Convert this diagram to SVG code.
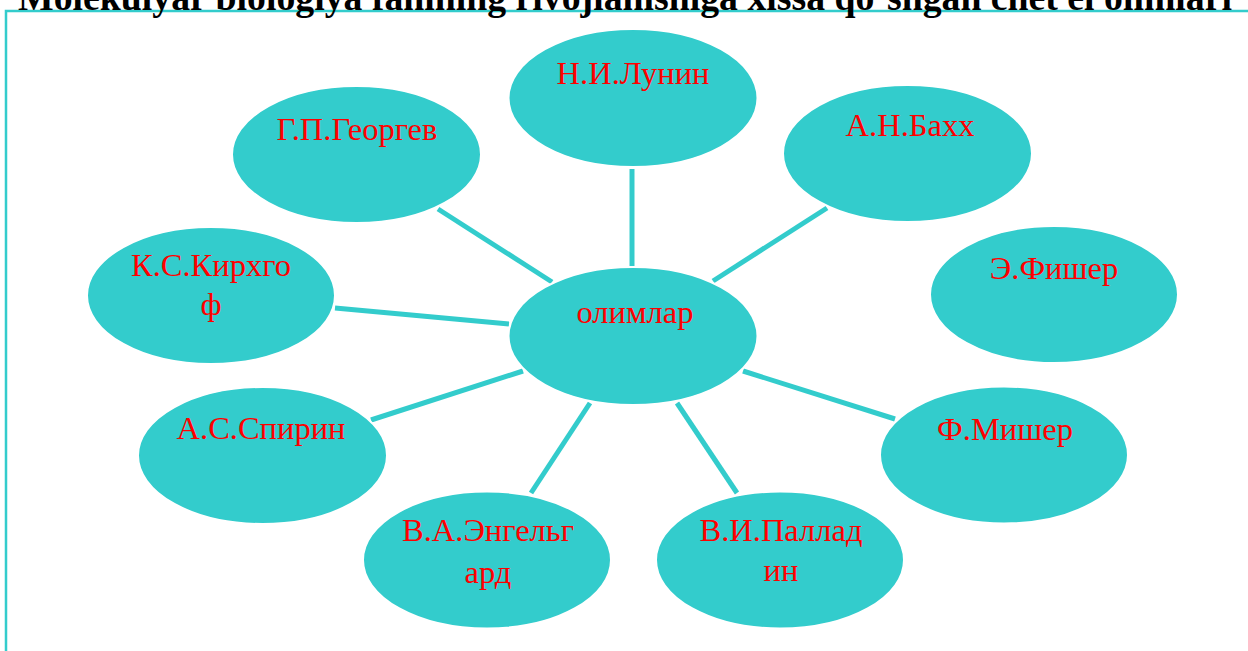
<svg xmlns="http://www.w3.org/2000/svg" width="1248" height="651" viewBox="0 0 1248 651">
<style>
.node{fill:#33CCCC;stroke:#FFFFFF;stroke-width:2}
.lbl{font-family:"Liberation Serif","Times New Roman",serif;font-size:32.5px;fill:#FF0000;text-anchor:middle}
.conn line{stroke:#33CCCC;stroke-width:5}
.title{font-family:"Liberation Serif","Times New Roman",serif;font-size:37.7px;font-weight:bold;fill:#000000}
</style>
<rect x="0" y="0" width="1248" height="651" fill="#FFFFFF"/>
<rect x="6" y="11" width="1260" height="660" fill="none" stroke="#33CCCC" stroke-width="2.5"/>
<text class="title" x="18" y="10" textLength="1214" lengthAdjust="spacingAndGlyphs">Molekulyar biologiya fanining rivojlanishiga xissa qo`shgan chet el olimlari</text>
<g id="connectors" class="conn">
<line x1="632" y1="169" x2="632" y2="266"/>
<line x1="438" y1="209" x2="552" y2="282"/>
<line x1="335" y1="308" x2="509" y2="324"/>
<line x1="827" y1="208" x2="713" y2="281"/>
<line x1="371" y1="420" x2="523" y2="371"/>
<line x1="531" y1="493" x2="590" y2="403"/>
<line x1="677" y1="403" x2="737" y2="493"/>
<line x1="743" y1="371" x2="895" y2="419"/>
</g>
<g id="olimlar"><ellipse class="node" cx="633" cy="336" rx="124.5" ry="69"/><text class="lbl" x="635" y="323">олимлар</text></g>
<g id="lunin"><ellipse class="node" cx="633" cy="98" rx="124.5" ry="69"/><text class="lbl" x="633" y="84">Н.И.Лунин</text></g>
<g id="georgev"><ellipse class="node" cx="356.5" cy="154.5" rx="124.5" ry="68.5"/><text class="lbl" x="357" y="140">Г.П.Георгев</text></g>
<g id="bakh"><ellipse class="node" cx="907.5" cy="153.5" rx="124.5" ry="68.5"/><text class="lbl" x="910" y="136">А.Н.Бахх</text></g>
<g id="kirhgof"><ellipse class="node" cx="211" cy="295.5" rx="124" ry="68.5"/><text class="lbl" x="211" y="276">К.С.Кирхго</text><text class="lbl" x="211" y="315">ф</text></g>
<g id="fisher"><ellipse class="node" cx="1054" cy="294.5" rx="124" ry="68.5"/><text class="lbl" x="1054" y="279">Э.Фишер</text></g>
<g id="spirin"><ellipse class="node" cx="262.5" cy="455.5" rx="124.5" ry="68.5"/><text class="lbl" x="261" y="439">А.С.Спирин</text></g>
<g id="misher"><ellipse class="node" cx="1004" cy="455" rx="124" ry="68.5"/><text class="lbl" x="1005" y="440">Ф.Мишер</text></g>
<g id="engelgard"><ellipse class="node" cx="487" cy="560" rx="124" ry="68.5"/><text class="lbl" x="488" y="541">В.А.Энгельг</text><text class="lbl" x="488" y="583">ард</text></g>
<g id="palladin"><ellipse class="node" cx="780" cy="560" rx="124" ry="68.5"/><text class="lbl" x="781" y="541">В.И.Паллад</text><text class="lbl" x="781" y="581">ин</text></g>
</svg>
